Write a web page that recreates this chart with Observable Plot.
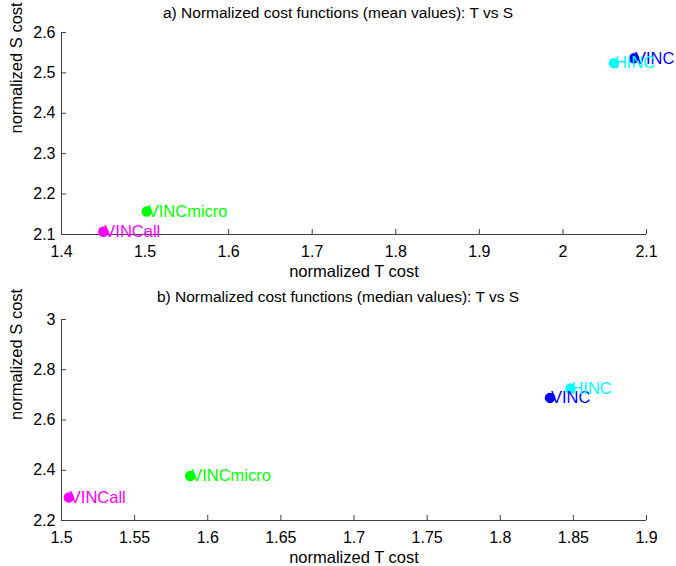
<!DOCTYPE html>
<html>
<head>
<meta charset="utf-8">
<script src="https://cdn.jsdelivr.net/npm/d3@7"></script>
<script src="https://cdn.jsdelivr.net/npm/@observablehq/plot@0.6"></script>
<style>
  html, body { margin: 0; padding: 0; background: white; }
  #chart { width: 676px; }
  #chart svg { display: block; }
</style>
</head>
<body>
<div id="chart"></div>
<script>
// ---- data ----
const methods = ["VINC", "HINC", "VINCmicro", "VINCall"];
const methodColors = ["#0000ff", "#00ffff", "#00ff00", "#ff00ff"];

const meanT = [2.085, 2.061, 1.502, 1.450];
const meanS = [2.536, 2.524, 2.157, 2.107];

const medianT = [1.834, 1.848, 1.588, 1.505];
const medianS = [2.688, 2.725, 2.377, 2.292];

const xTicksA = [1.4, 1.5, 1.6, 1.7, 1.8, 1.9, 2.0, 2.1];
const yTicksA = [2.1, 2.2, 2.3, 2.4, 2.5, 2.6];
const xTicksB = [1.5, 1.55, 1.6, 1.65, 1.7, 1.75, 1.8, 1.85, 1.9];
const yTicksB = [2.2, 2.4, 2.6, 2.8, 3.0];

const titleA = "a) Normalized cost functions (mean values): T vs S";
const titleB = "b) Normalized cost functions (median values): T vs S";
const xLabel = "normalized T cost";
const yLabel = "normalized S cost";

// ---- drawing ----
const W = 676, ML = 61, MR = 30;
const plotW = W - ML - MR;
const axisColor = "#404040";
const fmt = d => String(+d.toFixed(2));

function panel({T, S, xTicks, yTicks, title, marginTop, marginBottom, height, titleDy, xLabelDy}) {
  const rows = methods.map((m, i) => ({name: m, color: methodColors[i], t: T[i], s: S[i]}));
  const plotH = height - marginTop - marginBottom;
  return Plot.plot({
    width: W,
    height,
    marginLeft: ML,
    marginRight: MR,
    marginTop,
    marginBottom,
    style: {fontFamily: "'Liberation Sans', Arial, sans-serif", fontSize: "16px", background: "white", color: "black"},
    x: {domain: [xTicks[0], xTicks[xTicks.length - 1]]},
    y: {domain: [yTicks[0], yTicks[yTicks.length - 1]]},
    color: {type: "identity"},
    marks: [
      Plot.ruleX([xTicks[0]], {stroke: axisColor}),
      Plot.ruleY([yTicks[0]], {stroke: axisColor}),
      Plot.tickX(xTicks, {x: d => d, stroke: axisColor, insetTop: plotH - 5}),
      Plot.tickY(yTicks, {y: d => d, stroke: axisColor, insetRight: plotW - 5}),
      Plot.axisX({ticks: xTicks, tickSize: 0, tickPadding: 11, tickFormat: fmt, label: null, fill: "black", fontSize: 16}),
      Plot.axisY({ticks: yTicks, tickSize: 0, tickPadding: 6, tickFormat: fmt, label: null, fill: "black", fontSize: 16}),
      Plot.dot(rows, {x: "t", y: "s", r: 4.5, fill: "color", stroke: "color"}),
      Plot.text(rows, {x: "t", y: "s", text: "name", fill: "color", textAnchor: "start", lineAnchor: "middle", dx: 1, fontSize: 16.5}),
      Plot.text([title], {text: d => d, frameAnchor: "top", lineAnchor: "middle", dy: titleDy, dx: -16, fill: "black", fontSize: 15.5}),
      Plot.text([xLabel], {text: d => d, frameAnchor: "bottom", lineAnchor: "middle", dy: xLabelDy, fill: "black", fontSize: 16.5}),
      Plot.text([yLabel], {text: d => d, frameAnchor: "left", lineAnchor: "middle", dx: -45, rotate: -90, fill: "black", fontSize: 16.5})
    ]
  });
}

const chart = document.getElementById("chart");
chart.append(panel({T: meanT, S: meanS, xTicks: xTicksA, yTicks: yTicksA, title: titleA,
  marginTop: 32, marginBottom: 49, height: 283, titleDy: -19, xLabelDy: 37}));
chart.append(panel({T: medianT, S: medianS, xTicks: xTicksB, yTicks: yTicksB, title: titleB,
  marginTop: 36, marginBottom: 46, height: 283, titleDy: -22, xLabelDy: 37}));
</script>
</body>
</html>
